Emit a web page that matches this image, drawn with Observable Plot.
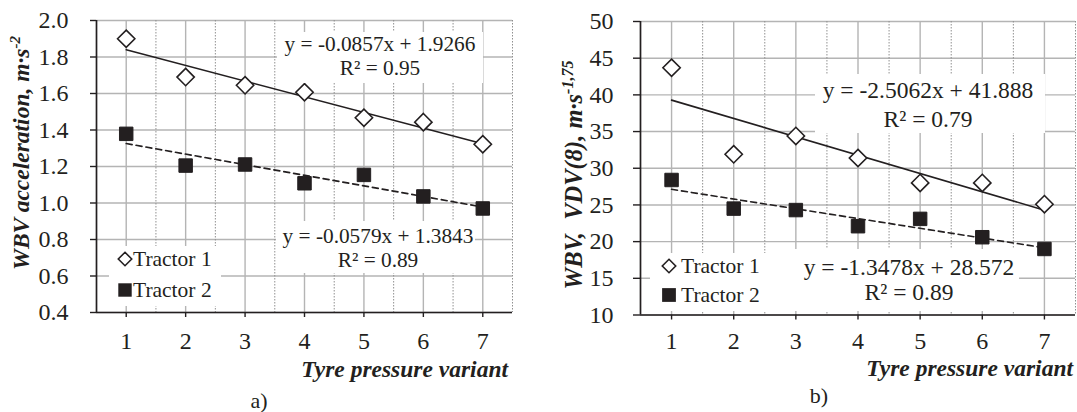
<!DOCTYPE html>
<html><head><meta charset="utf-8">
<script src="https://cdn.jsdelivr.net/npm/d3@7"></script>
<script src="https://cdn.jsdelivr.net/npm/@observablehq/plot@0.6"></script>
<style>
body{margin:0;background:#fff;}
#wrap{display:flex;width:1077px;height:412px;overflow:hidden;}
svg{font-family:"Liberation Serif","Times New Roman",serif;display:block;}
</style></head><body><div id="wrap"><div id="pa"></div><div id="pb"></div></div>
<script>
// ---- data ----
const variants = [1, 2, 3, 4, 5, 6, 7];
const seriesNames = ["Tractor 1", "Tractor 2"];
const accT1 = [1.90, 1.69, 1.645, 1.607, 1.467, 1.443, 1.322];
const accT2 = [1.379, 1.205, 1.211, 1.108, 1.154, 1.036, 0.970];
const vdvT1 = [43.7, 31.9, 34.4, 31.4, 28.0, 28.0, 25.1];
const vdvT2 = [28.4, 24.5, 24.3, 22.1, 23.1, 20.6, 19.0];
const accTicks = [0.4, 0.6, 0.8, 1.0, 1.2, 1.4, 1.6, 1.8, 2.0];
const vdvTicks = [10, 15, 20, 25, 30, 35, 40, 45, 50];
const halfSteps = [1.5, 2.5, 3.5, 4.5, 5.5, 6.5, 7.5];
const accEq = ["y = -0.0857x + 1.9266", "y = -0.0579x + 1.3843"];
const accR2 = ["R² = 0.95", "R² = 0.89"];
const vdvEq = ["y = -2.5062x + 41.888", "y = -1.3478x + 28.572"];
const vdvR2 = ["R² = 0.79", "R² = 0.89"];
const xTitle = "Tyre pressure variant";
const accTitle = ["WBV acceleration, m·s", "-2"];
const vdvTitle = ["WBV,\u00a0 VDV(8), m·s", "-1,75"];
const panelLabels = ["a)", "b)"];

const INK = "#231f20";

function panel({width, mL, mR, mT, mB, yDomain, yTicks, t1, t2, fmt, tickSizeY, tickPadY, tickPadX}) {
  const d1 = variants.map((v, i) => ({x: v, y: t1[i]}));
  const d2 = variants.map((v, i) => ({x: v, y: t2[i]}));
  const svg = Plot.plot({
    width, height: 412,
    marginLeft: mL, marginRight: mR, marginTop: mT, marginBottom: mB,
    x: {domain: [0.5, 7.5]},
    y: {domain: yDomain},
    style: {fontFamily: "Liberation Serif, serif", fontSize: "24px", color: INK, background: "white", overflow: "visible"},
    marks: [
      Plot.ruleY(yTicks, {stroke: "#b4b4b4", strokeWidth: 1.4}),
      Plot.ruleX(variants, {stroke: "#b4b4b4", strokeWidth: 1.4}),
      Plot.ruleX(halfSteps, {stroke: "#909090", strokeWidth: 1, strokeDasharray: "1.5,1.5"}),
      Plot.axisY(yTicks, {tickSize: tickSizeY, tickPadding: tickPadY, tickFormat: fmt, label: null, strokeWidth: 1.4, fontSize: 24}),
      Plot.axisX(variants, {tickSize: 5, tickPadding: tickPadX, label: null, strokeWidth: 1.4, fontSize: 24}),
      Plot.ruleY([yDomain[0]], {stroke: INK, strokeWidth: 1.7}),
      Plot.ruleX([0.5], {stroke: INK, strokeWidth: 1.7}),
      Plot.linearRegressionY(d1, {x: "x", y: "y", ci: 0, stroke: INK, strokeWidth: 1.6}),
      Plot.linearRegressionY(d2, {x: "x", y: "y", ci: 0, stroke: INK, strokeWidth: 1.6, strokeDasharray: "6,4"}),
      Plot.dot(d1, {x: "x", y: "y", symbol: "diamond2", r: 7.8, fill: "white", stroke: INK, strokeWidth: 1.6}),
      Plot.dot(d2, {x: "x", y: "y", symbol: "square", r: 7.6, fill: INK, stroke: INK, strokeWidth: 1})
    ]
  });
  d3.select(svg).selectAll("g[aria-label$='tick label']")
    .attr("font-size", 24).style("font-size", "24px")
    .attr("font-family", "Liberation Serif, serif").style("font-family", "Liberation Serif, serif");
  return svg;
}

function addBox(svg, x, y, w, h) {
  d3.select(svg).append("rect").attr("x", x).attr("y", y).attr("width", w).attr("height", h).attr("fill", "white");
}
function addText(svg, s, x, y, anchor, size = 21, extra = {}) {
  const t = d3.select(svg).append("text").attr("x", x).attr("y", y)
    .attr("text-anchor", anchor).attr("font-size", size).attr("fill", INK).text(s);
  for (const k in extra) t.attr(k, extra[k]);
  return t;
}
function addYTitle(svg, x, y, parts, size, supSize) {
  const t = d3.select(svg).append("text")
    .attr("transform", `translate(${x},${y}) rotate(-90)`)
    .attr("text-anchor", "middle").attr("font-weight", "bold").attr("font-style", "italic")
    .attr("font-size", size).attr("fill", INK);
  t.append("tspan").text(parts[0]);
  t.append("tspan").attr("dy", -9).attr("font-size", supSize).text(parts[1]);
}
function addLegend(svg, sx, y1, y2, tx, dsize, ssize, fs) {
  const g = d3.select(svg).append("g");
  g.append("path").attr("transform", `translate(${sx},${y1})`)
    .attr("d", d3.symbol(d3.symbolDiamond2, dsize)()).attr("fill", "white").attr("stroke", INK).attr("stroke-width", 1.6);
  g.append("path").attr("transform", `translate(${sx},${y2})`)
    .attr("d", d3.symbol(d3.symbolSquare, ssize)()).attr("fill", INK);
  addText(svg, seriesNames[0], tx, y1 + 7, "start", fs);
  addText(svg, seriesNames[1], tx, y2 + 7, "start", fs);
}
const boldItalic = {"font-weight": "bold", "font-style": "italic"};

// ---- panel a ----
const A = panel({width: 540, mL: 96, mR: 28, mT: 20, mB: 100, yDomain: [0.4, 2.0], yTicks: accTicks,
  t1: accT1, t2: accT2, fmt: d3.format(".1f"), tickSizeY: 6, tickPadY: 22, tickPadX: 14});
document.getElementById("pa").appendChild(A);
addBox(A, 277, 32, 206, 51);
addText(A, accEq[0], 380, 51, "middle", 21.3);
addText(A, accR2[0], 380, 75, "middle", 21.3);
addBox(A, 276, 221, 199, 52);
addText(A, accEq[1], 378, 243, "middle", 21.3);
addText(A, accR2[1], 378, 267, "middle", 21.3);
addBox(A, 109, 246, 112, 60);
addLegend(A, 125, 259, 290, 133, 115, 180, 21.5);
addYTitle(A, 29, 153, accTitle, 23.5, 15);
addText(A, xTitle, 508, 377, "end", 23.5, boldItalic);
addText(A, panelLabels[0], 259, 408, "middle", 22);

// ---- panel b ----
const B = panel({width: 537, mL: 100, mR: 2, mT: 21, mB: 97.5, yDomain: [10, 50], yTicks: vdvTicks,
  t1: vdvT1, t2: vdvT2, fmt: d => String(d), tickSizeY: 7, tickPadY: 20, tickPadX: 12});
document.getElementById("pb").appendChild(B);
addBox(B, 275, 74, 230, 59);
addText(B, vdvEq[0], 388, 98, "middle", 23.5);
addText(B, vdvR2[0], 388, 126.5, "middle", 23.5);
addBox(B, 255, 249, 224, 62);
addText(B, vdvEq[1], 369, 275, "middle", 23.5);
addText(B, vdvR2[1], 369, 300, "middle", 23.5);
addBox(B, 110, 253, 145, 58);
addLegend(B, 129, 266, 295, 141, 115, 190, 21.5);
addYTitle(B, 42, 175, vdvTitle, 24.5, 16);
addText(B, xTitle, 533, 376, "end", 23.5, boldItalic);
addText(B, panelLabels[1], 279, 403, "middle", 22);
</script></body></html>
